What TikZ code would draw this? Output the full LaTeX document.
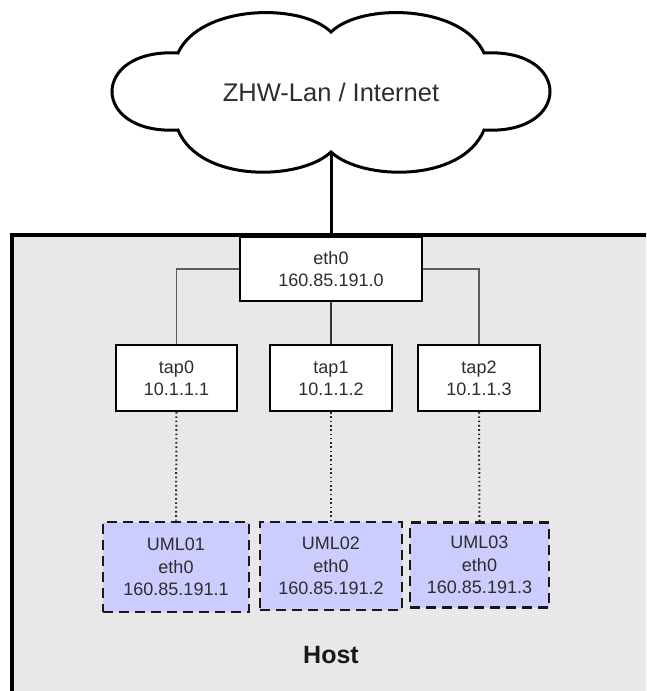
\documentclass[tikz,border=0pt]{standalone}
\usepackage{fontspec}
\setmainfont{Liberation Sans}
\definecolor{hostgray}{RGB}{232,232,232}
\definecolor{umlblue}{RGB}{204,204,255}
\definecolor{wiregray}{RGB}{90,90,90}
\definecolor{txt}{RGB}{45,45,45}
\tikzset{
  netbox/.style={draw=black, line width=2pt, fill=white, align=center,
    inner sep=0pt, font=\fontsize{18}{22}\selectfont, text=txt},
  umlbox/.style={draw=black!90, line width=2.8pt, fill=umlblue, align=center,
    inner sep=0pt, dash pattern=on 10pt off 6pt,
    font=\fontsize{18}{22.5}\selectfont, text=txt},
  wire/.style={draw=wiregray, line width=1.5pt},
  trunk/.style={draw=black, line width=3pt},
  vlink/.style={draw=black!85, line width=2pt, dash pattern=on 1.6pt off 2.7pt}
}
\begin{document}
\begin{tikzpicture}[x=1pt,y=1pt]
\useasboundingbox (0,0) rectangle (646,-691);
\fill[white] (0,0) rectangle (646,-691);
\begin{scope}
\clip (0,0) rectangle (646,-691);

% host area (runs off the right and bottom edges)
\fill[hostgray] (12,-235) rectangle (720,-760);
\draw[line width=3.2pt] (12,-760) -- (12,-235) -- (720,-235);

% cloud
\draw[line width=3pt, fill=white]
  (178,-53) .. controls (200,-5) and (300,-2) .. (331,-32)
  .. controls (362,-2) and (462,-5) .. (484,-53)
  .. controls (572,-48) and (572,-135) .. (484,-130)
  .. controls (462,-183) and (362,-181) .. (331,-152)
  .. controls (300,-181) and (200,-183) .. (178,-130)
  .. controls (90,-135) and (90,-48) .. cycle;
\node[font=\fontsize{25.5}{30}\selectfont, text=txt] (cloud) at (331,-92) {ZHW-Lan / Internet};
\coordinate (cloudfoot) at (331,-152);

% host interface
\node[netbox, minimum width=182pt, minimum height=64pt] (eth0) at (331,-269) {eth0\\160.85.191.0};

% tap devices
\node[netbox, minimum width=121pt, minimum height=66pt] (tap0) at (176.5,-378) {tap0\\10.1.1.1};
\node[netbox, minimum width=122pt, minimum height=66pt] (tap1) at (331,-378) {tap1\\10.1.1.2};
\node[netbox, minimum width=122pt, minimum height=66pt] (tap2) at (479,-378) {tap2\\10.1.1.3};

% virtual machines
\node[umlbox, minimum width=146pt, minimum height=90pt] (uml1) at (176,-567) {UML01\\eth0\\160.85.191.1};
\node[umlbox, minimum width=142pt, minimum height=88pt] (uml2) at (331,-566) {UML02\\eth0\\160.85.191.2};
\node[umlbox, minimum width=139pt, minimum height=85pt] (uml3) at (479.5,-565) {UML03\\eth0\\160.85.191.3};

\node[font=\bfseries\fontsize{25}{30}\selectfont, text=black!90] (host) at (331,-655) {Host};

% connections
\draw[trunk] (cloudfoot) -- (eth0.north);
\draw[wire] (eth0.west) -| (tap0.north);
\draw[wire] (eth0.east) -| (tap2.north);
\draw[wire, draw=black!80] (eth0.south) -- (tap1.north);
\draw[vlink] (tap0.south) -- (uml1.north);
\draw[vlink] (tap1.south) -- (uml2.north);
\draw[vlink] (tap2.south) -- (uml3.north);
\end{scope}
\end{tikzpicture}
\end{document}
